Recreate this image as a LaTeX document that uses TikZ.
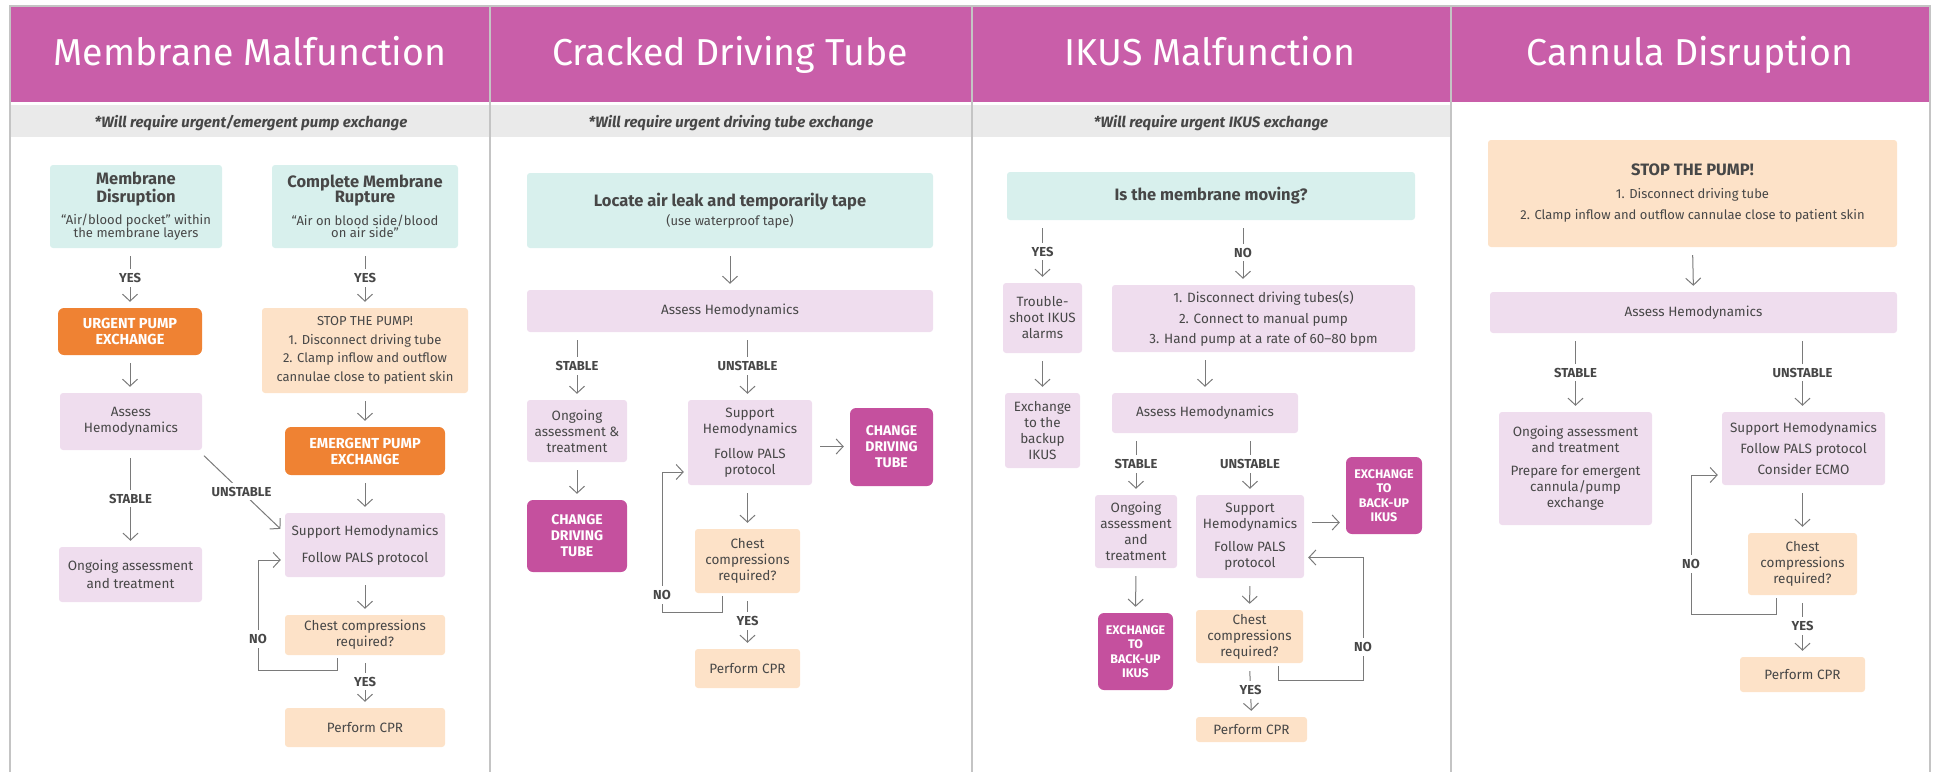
\documentclass[tikz,border=0pt]{standalone}
\usepackage{fontspec}
\setmainfont{Fira Sans}
\usetikzlibrary{arrows.meta}

\definecolor{headpink}{HTML}{C95EA9}
\definecolor{bandgrey}{HTML}{EAEAEA}
\definecolor{framegrey}{HTML}{C4C4C4}
\definecolor{mint}{HTML}{D8F0ED}
\definecolor{lilac}{HTML}{EFDDEE}
\definecolor{peach}{HTML}{FDE2C8}
\definecolor{tangerine}{HTML}{EF8233}
\definecolor{plum}{HTML}{C5509E}
\definecolor{txt}{HTML}{474747}
\definecolor{wire}{HTML}{7A7A7A}

\newcommand\boxhead{\bfseries\fontsize{16.5}{19}\selectfont}
\newcommand\boxsmall{\fontsize{13}{15}\selectfont}

\tikzset{
  box/.style={rectangle, inner sep=0pt, align=center, rounded corners=3pt, text=txt, font=\fontsize{13.5}{16}\selectfont},
  tealbox/.style={box, fill=mint},
  lilacbox/.style={box, fill=lilac},
  peachbox/.style={box, fill=peach},
  urgbox/.style={box, fill=tangerine, rounded corners=6pt, text=white, font=\bfseries\fontsize{14.5}{16}\selectfont},
  plumbox/.style={box, fill=plum, rounded corners=6pt, text=white, font=\bfseries\fontsize{14}{16}\selectfont},
  arr/.style={draw=wire, line width=1pt, -{Straight Barb[length=7pt,width=15pt]}, shorten <=8pt, shorten >=6pt},
  lab/.style={fill=white, inner xsep=2pt, inner ysep=4pt, text=txt, font=\bfseries\fontsize{13}{14}\selectfont},
  headtitle/.style={anchor=base, text=white, font=\fontsize{37.5}{42}\selectfont},
  subtitle/.style={anchor=base, text=txt, font=\bfseries\itshape\fontsize{15}{18}\selectfont}
}

\begin{document}
\begin{tikzpicture}[x=1pt, y=-1pt]
\useasboundingbox (0,0) rectangle (1937,772);
\fill[headpink] (10,6) rectangle (1930,102);
\fill[bandgrey] (11,105) rectangle (1450,137);
\draw[framegrey, line width=1.5pt] (10,772) -- (10,6) -- (1930,6) -- (1930,772);
\foreach \x in {490,972,1451}
  \draw[framegrey, line width=1.5pt] (\x,6) -- (\x,772);

\node[headtitle] (t1) at (250,65) {Membrane Malfunction};
\node[headtitle] (t2) at (730,65) {Cracked Driving Tube};
\node[headtitle] (t3) at (1210,65) {IKUS Malfunction};
\node[headtitle] (t4) at (1690,65) {Cannula Disruption};
\node[subtitle] (s1) at (251,127) {*Will require urgent/emergent pump exchange};
\node[subtitle] (s2) at (731,127) {*Will require urgent driving tube exchange};
\node[subtitle] (s3) at (1211,127) {*Will require urgent IKUS exchange};

% membrane malfunction
\node[tealbox, minimum width=172pt, minimum height=83pt] (md1) at (136,206.5) {{\boxhead Membrane}\\[2pt]{\boxhead Disruption}\\[6pt]{\boxsmall “Air/blood pocket” within}\\[-3pt]{\boxsmall the membrane layers}};
\node[tealbox, minimum width=186pt, minimum height=83pt] (cmr1) at (365,206.5) {{\boxhead Complete Membrane}\\[-1pt]{\boxhead Rupture}\\[7pt]{\boxsmall “Air on blood side/blood}\\[-4pt]{\boxsmall on air side”}};
\node[urgbox, minimum width=144pt, minimum height=47pt] (urg1) at (130,331.5) {URGENT PUMP\\EXCHANGE};
\node[peachbox, font=\fontsize{13}{18.5}\selectfont, minimum width=206pt, minimum height=85pt] (stop1) at (365,350.5) {STOP THE PUMP!\\1. Disconnect driving tube\\2. Clamp inflow and outflow\\cannulae close to patient skin};
\node[lilacbox, minimum width=142pt, minimum height=57pt] (ass1) at (131,421.5) {Assess\\Hemodynamics};
\node[urgbox, minimum width=160pt, minimum height=48pt] (emg1) at (365,451) {EMERGENT PUMP\\EXCHANGE};
\node[lilacbox, minimum width=160pt, minimum height=64pt] (sup1) at (365,545) {Support Hemodynamics\\[11pt]Follow PALS protocol};
\node[lilacbox, minimum width=143pt, minimum height=55pt] (ong1) at (130.5,574.5) {Ongoing assessment\\[2pt]and treatment};
\node[peachbox, minimum width=160pt, minimum height=40pt] (chest1) at (365,635) {Chest compressions\\required?};
\node[peachbox, minimum width=160pt, minimum height=39pt] (cpr1) at (365,727.5) {Perform CPR};
\coordinate (no1) at (258,670);

\draw[arr] (md1.south -| urg1.north) -- node[lab]{YES} (urg1.north);
\draw[arr] (cmr1.south) -- node[lab]{YES} (stop1.north);
\draw[arr] (urg1.south) -- (urg1.south |- ass1.north);
\draw[arr] (stop1.south) -- (emg1.north);
\draw[arr] (emg1.south) -- (sup1.north);
\draw[arr] (ass1.south -| ong1.north) -- node[lab]{STABLE} (ong1.north);
\draw[arr] ([xshift=-4pt]ass1.south east) -- node[lab]{UNSTABLE} ([yshift=12pt]sup1.west);
\draw[arr] (sup1.south) -- (chest1.north);
\draw[arr] (chest1.south) -- node[lab]{YES} (cpr1.north);
\draw[arr, shorten <=3pt, shorten >=4pt] ([xshift=-28pt]chest1.south) |- (no1) |- node[lab, pos=.14]{NO} ([yshift=-15pt]sup1.west);

% cracked driving tube
\node[tealbox, minimum width=406pt, minimum height=75pt] (loc2) at (730,210.5) {{\boxhead Locate air leak and temporarily tape}\\[3pt]{\boxsmall (use waterproof tape)}};
\node[lilacbox, minimum width=406pt, minimum height=42pt] (ass2) at (730,311) {Assess Hemodynamics};
\node[lilacbox, minimum width=100pt, minimum height=62pt] (ong2) at (577,431) {Ongoing\\assessment \&\\treatment};
\node[plumbox, minimum width=100pt, minimum height=72pt] (chg2a) at (577,536) {CHANGE\\DRIVING\\TUBE};
\node[lilacbox, minimum width=124pt, minimum height=85pt] (sup2) at (750,442.5) {Support\\Hemodynamics\\[9pt]Follow PALS\\protocol};
\node[plumbox, minimum width=83pt, minimum height=78pt] (chg2b) at (891.5,447) {CHANGE\\DRIVING\\TUBE};
\node[peachbox, minimum width=105pt, minimum height=64pt] (chest2) at (747.5,561) {Chest\\compressions\\required?};
\node[peachbox, minimum width=105pt, minimum height=39pt] (cpr2) at (747.5,668.5) {Perform CPR};
\coordinate (no2) at (662,612);

\draw[arr] (loc2.south) -- (ass2.north);
\draw[arr] (ass2.south -| ong2.north) -- node[lab]{STABLE} (ong2.north);
\draw[arr] (ass2.south -| chest2.north) -- node[lab]{UNSTABLE} (sup2.north -| chest2.north);
\draw[arr] (ong2.south) -- (chg2a.north);
\draw[arr] ([yshift=-4pt]sup2.east) -- ([yshift=-4pt]sup2.east -| chg2b.west);
\draw[arr] (sup2.south -| chest2.north) -- (chest2.north);
\draw[arr] (chest2.south) -- node[lab]{YES} (cpr2.north);
\draw[arr, shorten <=3pt, shorten >=4pt] ([xshift=-25pt]chest2.south) |- (no2) |- node[lab, pos=.06]{NO} ([yshift=-29.5pt]sup2.west);

% IKUS malfunction
\node[tealbox, minimum width=408pt, minimum height=48pt] (mov3) at (1211,196) {{\boxhead Is the membrane moving?}};
\node[lilacbox, minimum width=79pt, minimum height=70pt] (trb3) at (1042.5,318) {Trouble-\\shoot IKUS\\alarms};
\node[lilacbox, minimum width=303pt, minimum height=67pt] (dis3) at (1263.5,318.5) {1. Disconnect driving tubes(s)\\[5pt]2. Connect to manual pump\\[4pt]3. Hand pump at a rate of 60–80 bpm};
\node[lilacbox, minimum width=75pt, minimum height=75pt] (exc3) at (1042.5,430.5) {Exchange\\to the\\backup\\IKUS};
\node[lilacbox, minimum width=186pt, minimum height=40pt] (ass3) at (1205,413) {Assess Hemodynamics};
\node[lilacbox, minimum width=82pt, minimum height=73pt] (ong3) at (1136,531.5) {Ongoing\\assessment\\and\\treatment};
\node[lilacbox, minimum width=108pt, minimum height=83pt] (sup3) at (1250,536.5) {Support\\Hemodynamics\\[7pt]Follow PALS\\protocol};
\node[plumbox, font=\bfseries\fontsize{12.5}{14.5}\selectfont, minimum width=76pt, minimum height=77pt] (bak3b) at (1384,495.5) {EXCHANGE\\TO\\BACK-UP\\IKUS};
\node[plumbox, font=\bfseries\fontsize{12.5}{14.5}\selectfont, minimum width=75pt, minimum height=77pt] (bak3a) at (1135.5,651.5) {EXCHANGE\\TO\\BACK-UP\\IKUS};
\node[peachbox, minimum width=107pt, minimum height=53pt] (chest3) at (1249.5,636.5) {Chest\\compressions\\required?};
\node[peachbox, minimum width=111pt, minimum height=25pt] (cpr3) at (1251.5,729.5) {Perform CPR};
\coordinate (no3) at (1363,680);

\draw[arr] (mov3.south -| trb3.north) -- node[lab]{YES} (trb3.north);
\draw[arr] ([xshift=32pt]mov3.south) -- node[lab]{NO} ([xshift=32pt]mov3.south |- dis3.north);
\draw[arr] (trb3.south) -- (exc3.north);
\draw[arr] (dis3.south -| ass3.north) -- (ass3.north);
\draw[arr] (ass3.south -| ong3.north) -- node[lab]{STABLE} (ong3.north);
\draw[arr] (ass3.south -| sup3.north) -- node[lab]{UNSTABLE} (sup3.north);
\draw[arr] (ong3.south) -- (bak3a.north);
\draw[arr] ([yshift=14pt]sup3.east) -- ([yshift=14pt]sup3.east -| bak3b.west);
\draw[arr] (sup3.south) -- (chest3.north);
\draw[arr] (chest3.south) -- node[lab]{YES} (cpr3.north);
\draw[arr, shorten <=3pt, shorten >=4pt] ([xshift=29pt]chest3.south) |- (no3) |- node[lab, pos=.135]{NO} ([yshift=-21pt]sup3.east);

% cannula disruption
\node[peachbox, minimum width=409pt, minimum height=107pt] (stop4) at (1692.5,193.5) {{\boxhead STOP THE PUMP!}\\[7pt]{\boxsmall 1. Disconnect driving tube}\\[5pt]{\boxsmall 2. Clamp inflow and outflow cannulae close to patient skin}};
\node[lilacbox, minimum width=407pt, minimum height=41pt] (ass4) at (1693.5,312.5) {Assess Hemodynamics};
\node[lilacbox, minimum width=153pt, minimum height=113pt] (ong4) at (1575.5,468.5) {Ongoing assessment\\and treatment\\[7pt]Prepare for emergent\\cannula/pump\\exchange};
\node[lilacbox, minimum width=163pt, minimum height=73pt] (sup4) at (1803.5,448.5) {Support Hemodynamics\\[5pt]Follow PALS protocol\\[5pt]Consider ECMO};
\node[peachbox, minimum width=109pt, minimum height=62pt] (chest4) at (1802.5,564) {Chest\\compressions\\required?};
\node[peachbox, minimum width=125pt, minimum height=35pt] (cpr4) at (1802.5,674.5) {Perform CPR};
\coordinate (no4) at (1691,614);

\draw[arr] (stop4.south) -- (ass4.north);
\draw[arr] (ass4.south -| ong4.north) -- node[lab]{STABLE} (ong4.north);
\draw[arr] (ass4.south -| chest4.north) -- node[lab]{UNSTABLE} (sup4.north -| chest4.north);
\draw[arr] (sup4.south -| chest4.north) -- (chest4.north);
\draw[arr] (chest4.south) -- node[lab]{YES} (cpr4.north);
\draw[arr, shorten <=3pt, shorten >=4pt] ([xshift=-26pt]chest4.south) |- (no4) |- node[lab, pos=.18]{NO} ([yshift=-26.5pt]sup4.west);
\end{tikzpicture}
\end{document}
